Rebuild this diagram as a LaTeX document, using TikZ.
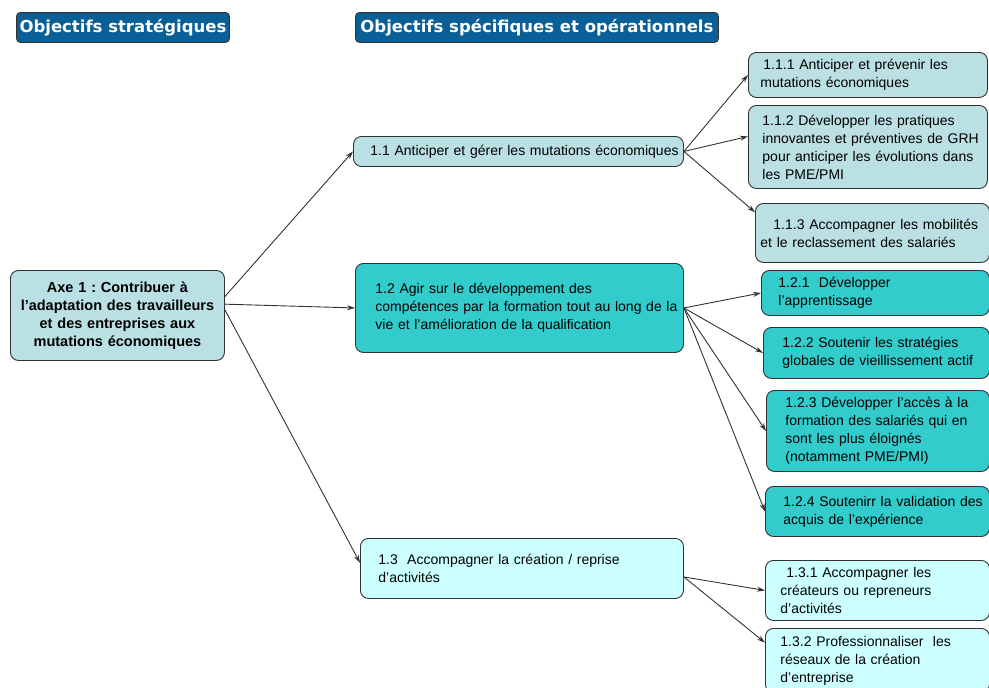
\documentclass[tikz,border=0pt]{standalone}
\usepackage{fontspec}
\setmainfont{Liberation Sans}
\newfontfamily\headfont{DejaVu Sans}
\usetikzlibrary{arrows.meta}
\definecolor{headblue}{RGB}{10,96,150}
\definecolor{lightblue}{RGB}{187,224,227}
\definecolor{teal2}{RGB}{51,204,204}
\definecolor{palecyan}{RGB}{204,255,255}
\definecolor{linec}{RGB}{50,50,50}
\frenchspacing
\begin{document}
\begin{tikzpicture}[x=1pt,y=-1pt,
  head/.style={draw=linec,fill=headblue,rounded corners=4pt,anchor=north west,line width=0.9pt,
    inner sep=0pt,text=white,font=\headfont\bfseries\fontsize{16.5}{18}\selectfont},
  box/.style={draw=linec,line width=0.9pt,rounded corners=8pt,anchor=north west,inner xsep=2pt,
    inner ysep=2pt,align=left,font=\fontsize{14}{18}\selectfont},
  ind/.style={execute at begin node={\leftskip=#1}},
  link/.style={draw=linec,line width=0.9pt,-{Stealth[length=8pt,width=5pt]}}]

  \useasboundingbox (0,0) rectangle (989,688);

  % headers
  \node[head,minimum width=213pt,minimum height=30pt] (h1) at (16,12) {Objectifs stratégiques};
  \node[head,minimum width=363pt,minimum height=30pt] (h2) at (355,12) {Objectifs spécifiques et opérationnels};

  % axe
  \node[box,fill=lightblue,align=center,text width=210pt,minimum height=90pt,
    font=\bfseries\fontsize{14.5}{18}\selectfont] (axe) at (10,270)
    {Axe 1 : Contribuer à\\l'adaptation des travailleurs\\et des entreprises aux\\mutations économiques};

  % level 2
  \node[box,ind=15pt,fill=lightblue,text width=326pt,minimum height=30pt] (o11) at (353,136)
    {1.1 Anticiper et gérer les mutations économiques};
  \node[box,ind=18pt,fill=teal2,text width=324pt,minimum height=89pt] (o12) at (355,263)
    {1.2 Agir sur le développement des\\compétences par la formation tout au long de la\\vie et l'amélioration de la qualification};
  \node[box,ind=16pt,fill=palecyan,text width=319pt,minimum height=60pt] (o13) at (360,538)
    {1.3~ Accompagner la création / reprise\\d'activités};

  % level 3
  \node[box,ind=10pt,fill=lightblue,text width=235pt,minimum height=45pt] (o111) at (748,52)
    {\hspace{3pt}1.1.1 Anticiper et prévenir les\\mutations économiques};
  \node[box,ind=12pt,fill=lightblue,text width=235pt,minimum height=83pt] (o112) at (748,105)
    {1.1.2 Développer les pratiques\\innovantes et préventives de GRH\\pour anticiper les évolutions dans\\les PME/PMI};
  \node[box,ind=3pt,fill=lightblue,text width=230pt,minimum height=59pt] (o113) at (755,203)
    {\hspace{13pt}1.1.3 Accompagner les mobilités\\et le reclassement des salariés};
  \node[box,ind=15pt,fill=teal2,text width=224pt,minimum height=45pt] (o121) at (761,270)
    {1.2.1~ Développer\\l'apprentissage};
  \node[box,ind=17pt,fill=teal2,text width=222pt,minimum height=51pt] (o122) at (763,327)
    {1.2.2 Soutenir les stratégies\\globales de vieillissement actif};
  \node[box,ind=17pt,fill=teal2,text width=219pt,minimum height=81pt] (o123) at (766,390)
    {1.2.3 Développer l'accès à la\\formation des salariés qui en\\sont les plus éloignés\\(notamment PME/PMI)};
  \node[box,ind=16pt,fill=teal2,text width=220pt,minimum height=50pt] (o124) at (765,486)
    {1.2.4 Soutenirr la validation des\\acquis de l'expérience};
  \node[box,ind=13pt,fill=palecyan,text width=220pt,minimum height=60pt] (o131) at (765,560)
    {\hspace{6pt}1.3.1 Accompagner les\\créateurs ou repreneurs\\d'activités};
  \node[box,ind=13pt,fill=palecyan,text width=220pt,minimum height=64pt] (o132) at (765,628)
    {1.3.2 Professionnaliser~ les\\réseaux de la création\\d'entreprise};

  % links
  \draw[link] (axe.10) -- (o11.west);
  \draw[link] (axe.6) -- (o12.west);
  \draw[link] (axe.3) -- (o13.178);
  \draw[link] (o11.east) -- (o111.west);
  \draw[link] (o11.east) -- (o112.175);
  \draw[link] (o11.east) -- (o113.170);
  \draw[link] (o12.east) -- (o121.west);
  \draw[link] (o12.east) -- (o122.west);
  \draw[link] (o12.east) -- (o123.west);
  \draw[link] (o12.east) -- (o124.west);
  \draw[link] (o13.-3) -- (o131.west);
  \draw[link] (o13.-3) -- (o132.171);
\end{tikzpicture}
\end{document}
